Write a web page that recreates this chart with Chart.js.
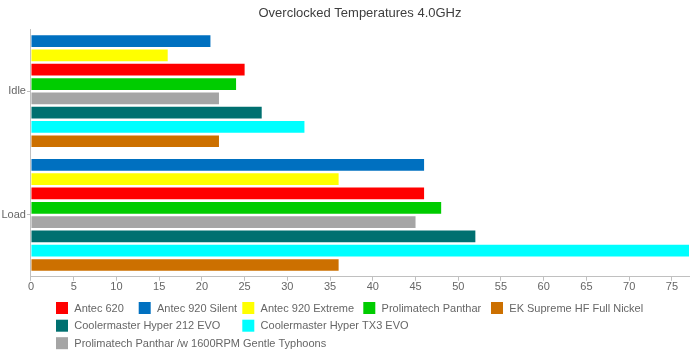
<!DOCTYPE html>
<html>
<head>
<meta charset="utf-8">
<script src="https://cdn.jsdelivr.net/npm/chart.js@4"></script>
<style>
  html, body { margin: 0; padding: 0; background: #ffffff; }
  #wrap { width: 700px; height: 350px; position: relative; }
</style>
</head>
<body>
<div id="wrap"><canvas id="c" width="700" height="350"></canvas></div>
<script>
// ---- data ----
const categories = ['Idle', 'Load'];
const antec920Silent  = [21, 46];
const antec920Extreme = [16, 36];
const antec620        = [25, 46];
const panthar         = [24, 48];
const pantharGT       = [22, 45];
const hyper212        = [27, 52];
const hyperTX3        = [32, 77];
const ekSupreme       = [22, 36];
const xMax = 77;
const xStep = 5;

// series in bar order (top to bottom within each group)
const seriesNames = [
  'Antec 920 Silent', 'Antec 920 Extreme', 'Antec 620', 'Prolimatech Panthar',
  'Prolimatech Panthar /w 1600RPM Gentle Typhoons', 'Coolermaster Hyper 212 EVO',
  'Coolermaster Hyper TX3 EVO', 'EK Supreme HF Full Nickel'
];
const seriesValues = [antec920Silent, antec920Extreme, antec620, panthar, pantharGT, hyper212, hyperTX3, ekSupreme];
const seriesColors = ['#0070C0', '#FFFF00', '#FF0000', '#00CC00', '#A5A5A5', '#007070', '#00FFFF', '#CC7000'];

// legend layout: [series index, box x, row centre y]
const legendLayout = [
  [2, 56, 308], [0, 138.7, 308], [1, 242.3, 308], [3, 363.3, 308], [7, 491, 308],
  [5, 56, 325.7], [6, 242.3, 325.7],
  [4, 56, 343.2]
];

const customLegend = {
  id: 'customLegend',
  afterDraw(chart) {
    const ctx = chart.ctx;
    ctx.save();
    ctx.font = '11px "Liberation Sans", Arial, sans-serif';
    ctx.textBaseline = 'middle';
    ctx.textAlign = 'left';
    legendLayout.forEach(([i, x, y]) => {
      ctx.fillStyle = seriesColors[i];
      ctx.fillRect(x, y - 6, 12, 12);
      ctx.fillStyle = '#666666';
      ctx.fillText(seriesNames[i], x + 18.3, y + 0.5);
    });
    ctx.restore();
  }
};

const datasets = seriesNames.map((name, i) => ({
  label: name,
  data: seriesValues[i],
  backgroundColor: seriesColors[i],
  borderWidth: 0,
  categoryPercentage: 0.925,
  barPercentage: 0.82
}));

new Chart(document.getElementById('c'), {
  type: 'bar',
  data: { labels: categories, datasets },
  plugins: [customLegend],
  options: {
    indexAxis: 'y',
    responsive: false,
    animation: false,
    devicePixelRatio: 1,
    layout: { padding: { top: 0, left: 0.5, right: 11, bottom: 56 } },
    plugins: {
      legend: { display: false },
      tooltip: { enabled: false },
      title: {
        display: true,
        fullSize: false,
        text: 'Overclocked Temperatures 4.0GHz',
        color: '#3E3E3E',
        font: { family: '"Liberation Sans", Arial, sans-serif', size: 13, weight: 'normal' },
        padding: { top: 6, bottom: 7.7 }
      }
    },
    scales: {
      x: {
        type: 'linear',
        min: 0,
        max: xMax,
        grid: { drawOnChartArea: false, drawTicks: true, tickLength: 4, color: '#C0C0C0' },
        border: { display: true, color: '#C0C0C0' },
        ticks: {
          stepSize: xStep,
          includeBounds: false,
          color: '#666666',
          padding: 0,
          maxRotation: 0,
          font: { family: '"Liberation Sans", Arial, sans-serif', size: 11 }
        }
      },
      y: {
        type: 'category',
        offset: true,
        grid: { drawOnChartArea: false, drawTicks: true, tickLength: 4, offset: false, color: '#C0C0C0' },
        border: { display: true, color: '#C0C0C0' },
        ticks: {
          color: '#666666',
          padding: 1,
          font: { family: '"Liberation Sans", Arial, sans-serif', size: 11 }
        }
      }
    }
  }
});
</script>
</body>
</html>
